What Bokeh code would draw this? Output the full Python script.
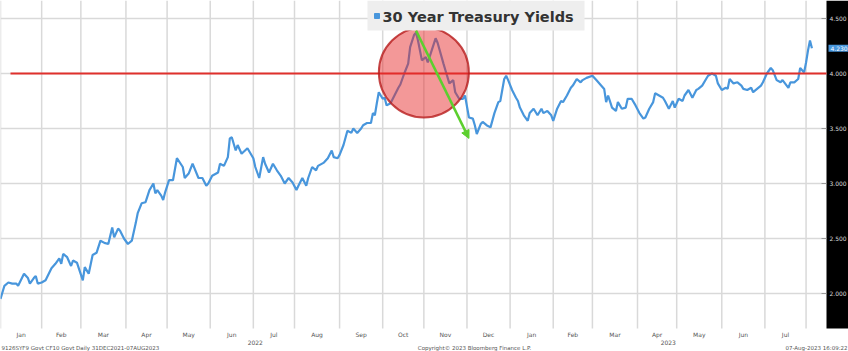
import numpy as np
import pandas as pd
from bokeh.plotting import figure
from bokeh.models import Range1d, Arrow, NormalHead, ColumnDataSource
from bokeh.core.properties import value
from bokeh.embed import file_html
from bokeh.resources import INLINE

# ---------------- data ----------------
title_text = "30 Year Treasury Yields"
start_date = "2022-01-03"          # first trading session of the series
# trading-session number (business days since start_date) and 30Y yield (%)
session = [0, 2, 4, 6, 8, 9, 12, 14, 15, 17, 18, 19, 21, 23, 26, 28, 30, 31, 32, 34,
           36, 37, 39, 42, 43, 45, 47, 49, 51, 53, 55, 57, 58, 60, 61, 63, 65, 67, 69, 70,
           72, 74, 76, 78, 79, 80, 82, 83, 84, 86, 88, 90, 93, 94, 96, 98, 101, 102,
           103, 105, 106, 108, 111, 112, 114, 116, 117, 118, 120, 121, 123, 126, 129, 130,
           132, 134, 135, 137, 139, 141, 143, 145, 147, 149, 151, 152, 154, 156, 157, 159,
           161, 162, 165, 167, 169, 170, 172, 173, 175, 177, 179, 180, 182, 184, 185, 187,
           189, 190, 191, 192, 193, 195, 196, 197, 199, 201, 203, 204,
           206, 208, 209, 211, 212, 213, 215, 217, 218, 220, 222, 223, 226, 227, 229, 231,
           232, 234, 236, 237, 239, 241, 242, 243, 245, 246, 248, 250, 252, 254, 255, 257,
           258, 259, 261, 263, 264, 265, 267, 269, 270, 272, 274, 276, 277, 279, 281, 282,
           284, 286, 287, 289, 291, 292, 294, 296, 297, 299, 302, 304, 306,
           308, 309, 310, 312, 314, 315, 317, 319, 320, 322, 324, 326, 328, 329, 331, 333,
           334, 336, 338, 339, 341, 343, 344, 346, 348, 349, 351, 353, 355, 356, 358, 360,
           361, 363, 365, 366, 368, 370, 371, 372, 374, 376, 378, 379, 381, 383, 384, 386,
           388, 389, 391, 393, 394, 396, 398, 399, 402, 403, 405, 407, 408, 410, 411, 412,
           413, 414]
yields = [1.95, 2.07, 2.10, 2.09, 2.09, 2.07, 2.18, 2.14, 2.09, 2.14, 2.16, 2.09, 2.10, 2.12, 2.23, 2.27, 2.32, 2.27, 2.36, 2.33,
          2.25, 2.30, 2.28, 2.12, 2.24, 2.18, 2.35, 2.37, 2.48, 2.46, 2.45, 2.60, 2.51, 2.59, 2.57, 2.50, 2.45, 2.48, 2.64, 2.73,
          2.82, 2.83, 2.94, 3.00, 2.91, 2.94, 2.89, 2.85, 2.92, 3.03, 3.03, 3.23, 3.15, 3.05, 3.09, 3.18, 3.05, 3.05,
          3.05, 2.98, 3.00, 3.07, 3.10, 3.18, 3.16, 3.24, 3.41, 3.42, 3.30, 3.35, 3.27, 3.32, 3.23, 3.15,
          3.05, 3.24, 3.18, 3.10, 3.18, 3.12, 3.07, 3.00, 3.05, 3.01, 2.94, 2.98, 3.05, 2.98, 3.05, 3.15,
          3.12, 3.16, 3.19, 3.23, 3.30, 3.24, 3.23, 3.26, 3.35, 3.48, 3.46, 3.50, 3.46, 3.50, 3.53, 3.55,
          3.55, 3.64, 3.62, 3.73, 3.83, 3.77, 3.78, 3.71, 3.73, 3.80, 3.87, 3.90,
          4.00, 4.09, 4.24, 4.35, 4.37, 4.30, 4.12, 4.15, 4.10, 4.21, 4.32, 4.28, 4.09, 4.03, 3.91, 3.94,
          3.83, 3.77, 3.77, 3.80, 3.60, 3.59, 3.53, 3.45, 3.54, 3.56, 3.53, 3.51, 3.64, 3.74, 3.75, 3.95,
          3.98, 3.94, 3.85, 3.78, 3.75, 3.69, 3.62, 3.57, 3.64, 3.68, 3.62, 3.68, 3.64, 3.66, 3.62, 3.57,
          3.68, 3.75, 3.74, 3.80, 3.87, 3.89, 3.95, 3.92, 3.94, 3.96, 3.98, 3.94, 3.90,
          3.86, 3.74, 3.80, 3.69, 3.66, 3.74, 3.68, 3.69, 3.77, 3.77, 3.71, 3.64, 3.59, 3.60, 3.68, 3.74,
          3.82, 3.80, 3.78, 3.75, 3.68, 3.75, 3.69, 3.77, 3.75, 3.80, 3.85, 3.78, 3.85, 3.86, 3.89, 3.95,
          3.98, 4.00, 3.98, 3.91, 3.85, 3.87, 3.86, 3.95, 3.91, 3.92, 3.89, 3.86, 3.85, 3.87, 3.83, 3.86,
          3.89, 3.92, 4.00, 4.05, 4.03, 3.94, 3.92, 3.94, 3.87, 3.92, 3.92, 3.95, 4.05, 4.01, 4.10, 4.21,
          4.30, 4.23]
month_labels = ["Jan", "Feb", "Mar", "Apr", "May", "Jun", "Jul", "Aug", "Sep", "Oct", "Nov", "Dec",
                "Jan", "Feb", "Mar", "Apr", "May", "Jun", "Jul"]
year_labels = ["2022", "2023"]
y_ticks = [2.0, 2.5, 3.0, 3.5, 4.0, 4.5]
threshold = 4.0
# annotation: highlighted peak zone and the drop arrow (session, yield)
circle_center = (216, 4.01)
arrow_from = (212, 4.39)
arrow_to = (239, 3.41)
footer_left = "9126SYF9 Govt CF10  Govt  Daily 31DEC2021-07AUG2023"
footer_mid = "Copyright\u00a9 2023 Bloomberg Finance L.P."
footer_right = "07-Aug-2023 16:09:22"

# ---------------- layout helpers (pixel -> data) ----------------
W, H = 848, 351
PX_PER_SESSION = 1.96
PX_PER_UNIT = 110.0
Y_TOP = 4.0 + 73 / PX_PER_UNIT           # value at the top edge


def xs(px):
    return px / PX_PER_SESSION


def yv(py):
    return Y_TOP - py / PX_PER_UNIT


X_END = xs(W)
Y_BOT = yv(H)
PLOT_RIGHT = xs(826)
PLOT_BOTTOM = yv(328)

bdays = pd.bdate_range(start_date, "2023-09-29")
months = pd.period_range("2022-01", "2023-08", freq="M")
month_starts = [int(np.searchsorted(bdays, m.start_time)) for m in months]
month_mids = [(a + b) / 2 for a, b in zip(month_starts[:-1], month_starts[1:])]
year_mids = [(0 + month_starts[12]) / 2, (month_starts[12] + PLOT_RIGHT) / 2]

LINE = "#4896dc"
GRID = "#d9d9d9"
FONT = value("DejaVu Sans")

p = figure(width=W, height=H, output_backend="svg", toolbar_location=None,
           x_range=Range1d(0, X_END), y_range=Range1d(Y_BOT, Y_TOP),
           x_axis_location=None, y_axis_location=None,
           min_border=0)
p.outline_line_color = None
p.grid.visible = False
p.background_fill_color = "white"
p.border_fill_color = "white"

# grid lines
p.segment(x0=month_starts, y0=[PLOT_BOTTOM] * len(month_starts),
          x1=month_starts, y1=[Y_TOP] * len(month_starts),
          line_color=GRID, line_width=1.5)
p.segment(x0=[0] * len(y_ticks), y0=y_ticks, x1=[PLOT_RIGHT] * len(y_ticks), y1=y_ticks,
          line_color=GRID, line_width=1.5)

# right value axis panel
p.quad(left=[PLOT_RIGHT], right=[X_END], bottom=[PLOT_BOTTOM], top=[Y_TOP],
       fill_color="black", line_color=None)
p.segment(x0=[xs(821)] * len(y_ticks), y0=y_ticks, x1=[PLOT_RIGHT] * len(y_ticks), y1=y_ticks,
          line_color="#9a9a9a", line_width=1)
p.text(x=[xs(829)] * len(y_ticks), y=y_ticks, text=[f"{t:.3f}" for t in y_ticks],
       text_font=FONT, text_font_size="6px", text_color="#d8d8d8",
       text_align="left", text_baseline="middle")

# month / year labels
p.text(x=month_mids, y=[yv(334)] * len(month_mids), text=month_labels,
       text_font=FONT, text_font_size="6px", text_color="#555555",
       text_align="center", text_baseline="middle")
p.text(x=year_mids, y=[yv(342)] * len(year_mids), text=year_labels,
       text_font=FONT, text_font_size="6px", text_color="#555555",
       text_align="center", text_baseline="middle")

# footer
for txt, xpx, align in ((footer_left, 1, "left"), (footer_mid, 474, "center"),
                        (footer_right, 847, "right")):
    p.text(x=[xs(xpx)], y=[yv(347)], text=[txt], text_font=FONT, text_font_size="5.5px",
           text_color="#555555", text_align=align, text_baseline="middle")

# data line
src = ColumnDataSource(data=dict(session=session, yld=yields))
p.line("session", "yld", source=src, line_color=LINE, line_width=2.2)

# threshold line
p.segment(x0=[xs(10)], y0=[threshold], x1=[PLOT_RIGHT], y1=[threshold],
          line_color="#e0302c", line_width=2)

# highlight circle
p.circle(x=[circle_center[0]], y=[circle_center[1]], radius=45, radius_units="screen",
         fill_color="#e62828", fill_alpha=0.48, line_color="#b71c1c", line_width=2, line_alpha=0.8)

# arrow
GREEN = "#5ccf2e"
p.add_layout(Arrow(end=NormalHead(size=8, fill_color=GREEN, line_color=GREEN),
                   x_start=arrow_from[0], y_start=arrow_from[1],
                   x_end=arrow_to[0], y_end=arrow_to[1],
                   line_color=GREEN, line_width=2.5))

# last value tag on the value axis
last = yields[-1]
p.quad(left=[xs(828)], right=[X_END], bottom=[last - 3.5 / PX_PER_UNIT],
       top=[last + 3.5 / PX_PER_UNIT], fill_color=LINE, line_color=None)
p.text(x=[xs(830)], y=[last], text=[f"{last:.3f}"], text_font=FONT, text_font_size="6px",
       text_color="white", text_align="left", text_baseline="middle")

# title / legend box
p.quad(left=[xs(367)], right=[xs(584)], bottom=[yv(30)], top=[Y_TOP],
       fill_color="#eeeeee", line_color=None)
p.scatter(x=[xs(376.5)], y=[yv(15.5)], marker="square", size=5, color=LINE)
p.text(x=[xs(382)], y=[yv(16)], text=[title_text], text_font=FONT,
       text_font_style="bold", text_font_size="14.5px", text_color="#333333",
       text_align="left", text_baseline="middle")

open("out.html", "w").write(file_html(p, INLINE))
